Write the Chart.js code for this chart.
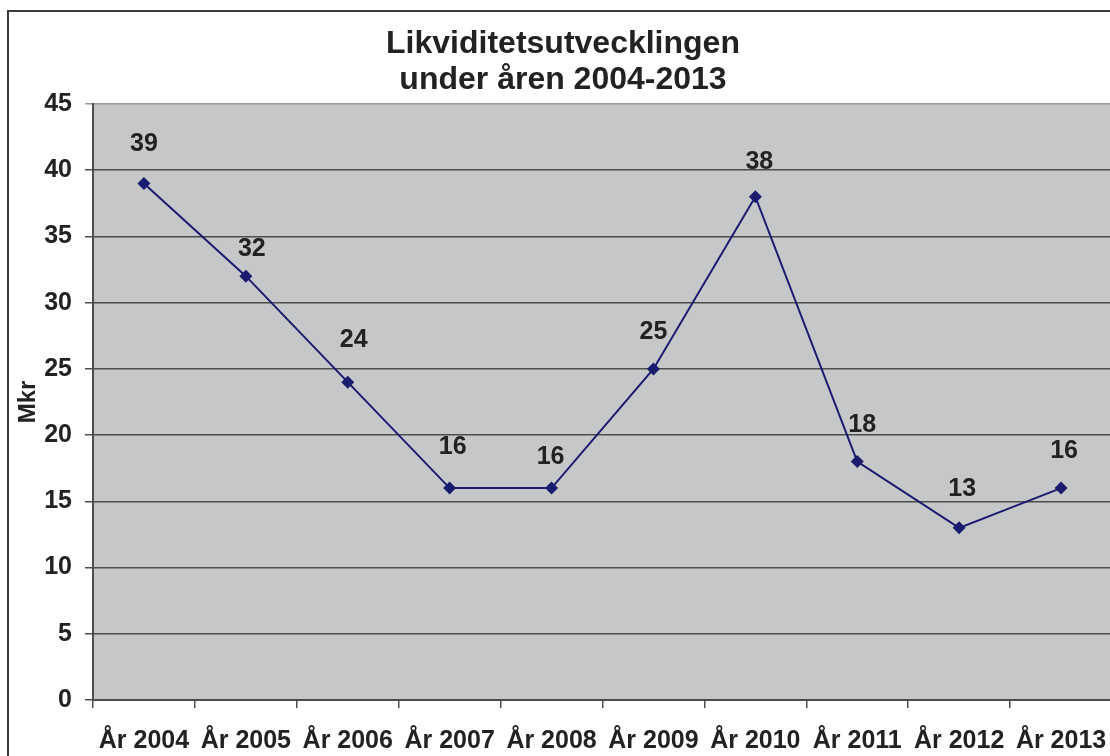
<!DOCTYPE html>
<html lang="sv">
<head>
  <meta charset="UTF-8">
  <title>Likviditetsutvecklingen</title>
  <style>
    html, body { margin: 0; padding: 0; background: #fff; overflow: hidden; }
    canvas { position: absolute; left: 0; top: 0; }
    #frame { position: absolute; left: 7px; top: 10px; width: 1200px; height: 800px;
             border-left: 2px solid #3a3a3a; border-top: 2px solid #3a3a3a; pointer-events: none; }
  </style>
</head>
<body>
<canvas id="likChart" width="1126" height="770"></canvas>
<div id="frame"></div>
<script src="https://cdn.jsdelivr.net/npm/chart.js"></script>
<script>
  const years = ['År 2004', 'År 2005', 'År 2006', 'År 2007', 'År 2008',
                 'År 2009', 'År 2010', 'År 2011', 'År 2012', 'År 2013'];
  const mkr = [39, 32, 24, 16, 16, 25, 38, 18, 13, 16];
  const yMin = 0, yMax = 45, yStep = 5;

  // hand-placed label nudges (px): [dx, baseline distance above point]
  const labelNudge = [[0, 32], [6, 20], [6, 35], [3, 34], [-1, 24],
                      [0, 30], [4, 28], [5, 30], [3, 32], [3, 30]];

  Chart.defaults.font.family = "'Liberation Sans', Arial, sans-serif";
  Chart.defaults.font.weight = 'bold';
  Chart.defaults.color = '#222';

  // grey plot area
  const plotBackground = {
    id: 'plotBackground',
    beforeDraw(chart) {
      const a = chart.chartArea, ctx = chart.ctx;
      ctx.save();
      ctx.fillStyle = '#c6c7c9';
      ctx.fillRect(a.left, a.top, a.right - a.left, a.bottom - a.top);
      ctx.restore();
    }
  };

  // value above each point
  const pointLabels = {
    id: 'pointLabels',
    afterDatasetsDraw(chart) {
      const ctx = chart.ctx;
      const meta = chart.getDatasetMeta(0);
      ctx.save();
      ctx.font = "bold 25px 'Liberation Sans', Arial, sans-serif";
      ctx.fillStyle = '#222';
      ctx.textAlign = 'center';
      ctx.textBaseline = 'alphabetic';
      meta.data.forEach((pt, i) => {
        const [dx, dy] = labelNudge[i];
        ctx.fillText(String(mkr[i]), pt.x + dx, pt.y - dy);
      });
      ctx.restore();
    }
  };

  const ctx = document.getElementById('likChart').getContext('2d');
  new Chart(ctx, {
    type: 'line',
    data: {
      labels: years,
      datasets: [{
        data: mkr,
        borderColor: '#1b1b70',
        backgroundColor: '#1b1b70',
        borderWidth: 2,
        pointStyle: 'rectRot',
        pointRadius: 6.5,
        pointBorderWidth: 0,
        tension: 0
      }]
    },
    options: {
      responsive: false,
      animation: false,
      devicePixelRatio: 1,
      layout: { padding: { left: 14, right: 14, top: 0, bottom: 0 } },
      plugins: {
        legend: { display: false },
        tooltip: { enabled: false },
        title: {
          display: true,
          text: ['Likviditetsutvecklingen', 'under åren 2004-2013'],
          color: '#222',
          font: { size: 32, weight: 'bold', lineHeight: 1.1 },
          padding: { top: 27, bottom: 6.6 }
        }
      },
      scales: {
        x: {
          offset: true,
          grid: { drawOnChartArea: false, offset: true, color: '#4d4d4d', lineWidth: 1.5, tickLength: 8 },
          border: { color: '#4d4d4d', width: 2 },
          ticks: { font: { size: 25, weight: 'bold' }, color: '#222', padding: 18, maxRotation: 0, autoSkip: false },
          afterFit(scale) { scale.height = 70; }
        },
        y: {
          min: yMin,
          max: yMax,
          grid: {
            color: (c) => c.tick && c.tick.value === yMax ? '#9a9a9a' : '#4d4d4d',
            lineWidth: 1.5,
            tickLength: 8
          },
          border: { color: '#4d4d4d', width: 2 },
          ticks: { stepSize: yStep, font: { size: 25, weight: 'bold' }, color: '#222', padding: 13 },
          title: {
            display: true,
            text: 'Mkr',
            color: '#222',
            font: { size: 24, weight: 'bold', lineHeight: 1.2 },
            padding: { top: 0, bottom: 0 }
          },
          afterFit(scale) { scale.width = 79; }
        }
      }
    },
    plugins: [plotBackground, pointLabels]
  });
</script>
</body>
</html>
